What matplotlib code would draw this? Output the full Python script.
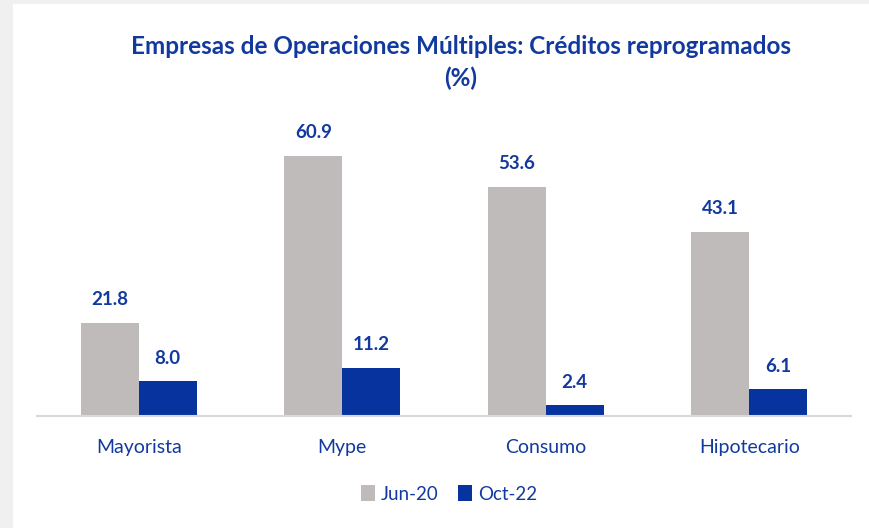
import matplotlib
matplotlib.use("Agg")
import matplotlib.pyplot as plt
import numpy as np
from matplotlib.patches import Rectangle

categories = ["Mayorista", "Mype", "Consumo", "Hipotecario"]
series_names = ["Jun-20", "Oct-22"]
jun20 = [21.8, 60.9, 53.6, 43.1]
oct22 = [8.0, 11.2, 2.4, 6.1]

GREY = "#BFBBBA"
BLUE = "#07339E"
TXT = "#12399E"
FONT = "Lato"

W, H = 870, 528
fig = plt.figure(figsize=(W / 100, H / 100), dpi=100)
fig.patch.set_facecolor("#F0F0F0")
bg = Rectangle((13 / W, 0), 1 - 13 / W, (H - 4) / H,
               transform=fig.transFigure, facecolor="white",
               edgecolor="none", zorder=-10)
fig.patches.append(bg)

ax = fig.add_axes([37 / W, 1 - 415.5 / H, (851 - 37) / W, (415.5 - 117) / H])
ax.set_zorder(1)
ax.set_facecolor("none")
x = np.arange(len(categories))
w = 0.285
b1 = ax.bar(x - w / 2, jun20, w, color=GREY, label=series_names[0], zorder=2)
b2 = ax.bar(x + w / 2, oct22, w, color=BLUE, label=series_names[1], zorder=2)
ax.set_xlim(-0.5, len(categories) - 0.5)
ax.set_ylim(0, 70)

for bars, vals in ((b1, jun20), (b2, oct22)):
    for r, v in zip(bars, vals):
        ax.annotate(f"{v:.1f}", (r.get_x() + r.get_width() / 2, v),
                    xytext=(0, 10.5), textcoords="offset points",
                    ha="center", va="bottom", color=TXT, fontsize=13.5,
                    fontweight="bold", family=FONT)

for s in ["top", "right", "left"]:
    ax.spines[s].set_visible(False)
ax.spines["bottom"].set_color("#D9D9D9")
ax.spines["bottom"].set_linewidth(1.5)
ax.spines["bottom"].set_zorder(3)
ax.set_yticks([])
ax.set_xticks(x)
ax.set_xticklabels(categories, color=TXT, fontsize=14, family=FONT)
ax.tick_params(axis="x", length=0, pad=17)

fig.text(461 / W, 1 - 47 / H, "Empresas de Operaciones Múltiples: Créditos reprogramados",
         ha="center", va="center", color=TXT, fontsize=17.5, fontweight="bold", family=FONT)
fig.text(461 / W, 1 - 78 / H, "(%)", ha="center", va="center", color=TXT,
         fontsize=17.5, fontweight="bold", family=FONT)

leg = fig.legend(handles=[b1, b2], labels=series_names, loc="center",
                 bbox_to_anchor=(449 / W, 1 - 494 / H), ncol=2, frameon=False,
                 handlelength=0.75, handleheight=0.9, handletextpad=0.35,
                 columnspacing=1.0, prop={"family": FONT, "size": 13.5})
for t in leg.get_texts():
    t.set_color(TXT)

fig.savefig("out.png", dpi=100, facecolor=fig.get_facecolor())
